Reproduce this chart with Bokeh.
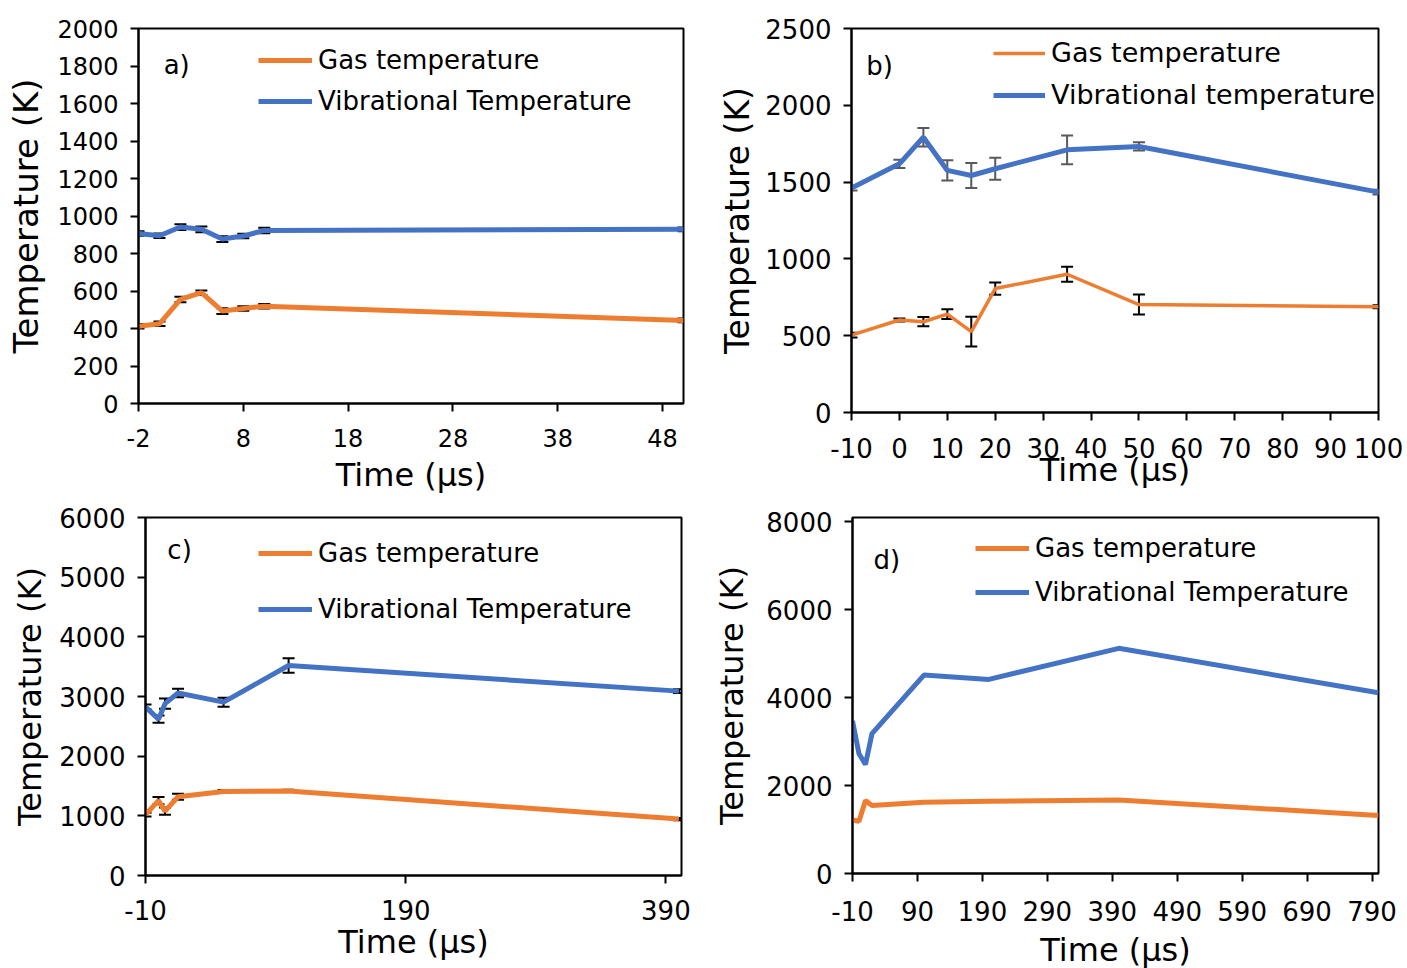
from bokeh.plotting import figure
from bokeh.models import (Range1d, FixedTicker, Whisker, TeeHead, ColumnDataSource,
                          Legend, LegendItem, Label)
from bokeh.layouts import column, row
from bokeh.embed import file_html
from bokeh.resources import INLINE

# ---------------- data ----------------
# panel a
a_time = [-2, 0, 2, 4, 6, 8, 10, 50]
a_gas = [412, 425, 555, 591, 493, 507, 519, 443]
a_gas_err = [12, 12, 15, 12, 15, 12, 12, 10]
a_vib = [907, 895, 941, 929, 877, 893, 923, 929]
a_vib_err = [12, 12, 15, 15, 15, 12, 15, 10]

# panel b
b_time = [-10, 0, 5, 10, 15, 20, 35, 50, 100]
b_gas = [504, 602, 591, 641, 526, 807, 900, 703, 688]
b_gas_err = [15, 10, 30, 32, 97, 40, 49, 65, 10]
b_vib = [1461, 1619, 1792, 1576, 1543, 1587, 1710, 1732, 1435]
b_vib_err = [15, 27, 60, 66, 81, 71, 94, 27, 15]

# panel c
c_time = [-10, 0, 5, 15, 50, 100, 400]
c_gas = [1020, 1255, 1080, 1320, 1407, 1418, 945]
c_gas_err = [30, 60, 60, 50, 25, 20, 20]
c_vib = [2825, 2620, 2880, 3058, 2905, 3520, 3090]
c_vib_err = [40, 60, 85, 70, 75, 120, 30]

# panel d
d_time = [-10, 0, 10, 20, 100, 200, 400, 800]
d_gas = [1217, 1186, 1658, 1544, 1620, 1643, 1673, 1316]
d_vib = [3468, 2722, 2479, 3179, 4510, 4411, 5118, 4106]

a_xticks = [-2, 8, 18, 28, 38, 48]
b_xticks = [-10, 0, 10, 20, 30, 40, 50, 60, 70, 80, 90, 100]
c_xticks = [-10, 190, 390]
d_xticks = [-10, 90, 190, 290, 390, 490, 590, 690, 790]
a_yticks = [0, 200, 400, 600, 800, 1000, 1200, 1400, 1600, 1800, 2000]
b_yticks = [0, 500, 1000, 1500, 2000, 2500]
c_yticks = [0, 1000, 2000, 3000, 4000, 5000, 6000]
d_yticks = [0, 2000, 4000, 6000, 8000]

ORANGE = "#ED7D31"
BLUE = "#4472C4"
FONT = "DejaVu Sans"


def make_fig(fw, fh, bl, br, bt, bb, xr, yr, xt, yt, tick_size, ylab_size,
             xtick_standoff, xlab_standoff, ylab_standoff, ytick_standoff):
    p = figure(frame_width=fw, frame_height=fh, min_border_left=bl, min_border_right=br,
               min_border_top=bt, min_border_bottom=bb,
               x_range=Range1d(*xr), y_range=Range1d(*yr),
               output_backend="svg", toolbar_location=None)
    p.xgrid.visible = False
    p.ygrid.visible = False
    p.outline_line_color = "black"
    p.outline_line_width = 2
    p.outline_line_alpha = 1
    p.background_fill_color = "white"
    p.border_fill_color = "white"
    p.xaxis.ticker = FixedTicker(ticks=xt)
    p.yaxis.ticker = FixedTicker(ticks=yt)
    # plain hyphen for negative tick labels, as in the reference
    p.xaxis.major_label_overrides = {t: str(t) for t in xt}
    p.yaxis.major_label_overrides = {t: str(t) for t in yt}
    for ax in (p.xaxis[0], p.yaxis[0]):
        ax.axis_line_color = "black"
        ax.axis_line_width = 2
        ax.major_tick_line_color = "black"
        ax.major_tick_line_width = 2
        ax.major_tick_in = 0
        ax.major_tick_out = 8
        ax.minor_tick_line_color = None
        ax.major_label_text_font = FONT
        ax.major_label_text_font_size = f"{tick_size}px"
        ax.major_label_text_color = "black"
        ax.axis_label_text_font = FONT
        ax.axis_label_text_font_style = "normal"
        ax.axis_label_text_color = "black"
    p.xaxis.axis_label = "Time (μs)"
    p.yaxis.axis_label = "Temperature (K)"
    p.xaxis.axis_label_text_font_size = "32px"
    p.yaxis.axis_label_text_font_size = f"{ylab_size}px"
    p.xaxis.major_label_standoff = xtick_standoff
    p.yaxis.major_label_standoff = ytick_standoff
    p.xaxis.axis_label_standoff = xlab_standoff
    p.yaxis.axis_label_standoff = ylab_standoff
    return p


def add_err(p, x, y, e, color):
    src = ColumnDataSource(dict(x=x, lo=[v - d for v, d in zip(y, e)], hi=[v + d for v, d in zip(y, e)]))
    w = Whisker(base="x", lower="lo", upper="hi", source=src, line_color=color, line_width=2,
                upper_head=TeeHead(size=12, line_color=color, line_width=2),
                lower_head=TeeHead(size=12, line_color=color, line_width=2))
    p.add_layout(w)


def add_legend(p, items, loc, size, spacing, gw=54):
    lg = Legend(items=items, location=loc, glyph_width=gw, glyph_height=20, label_standoff=6,
                padding=0, margin=0, spacing=spacing, border_line_alpha=0,
                background_fill_alpha=0, label_text_font=FONT,
                label_text_font_size=f"{size}px", label_text_color="black")
    p.add_layout(lg)


def add_tag(p, text, x, y):
    p.add_layout(Label(x=x, y=y, text=text, text_font=FONT, text_font_size="26px",
                       text_baseline="middle", text_align="left", text_color="black"))


# ---------------- panel a ----------------
pa = make_fig(545, 375, 138, 17, 28, 94, (-2, 50), (0, 2000), a_xticks, a_yticks, 24, 34, 17, 6, 8, 12)
ga = pa.line(a_time, a_gas, line_color=ORANGE, line_width=5)
va = pa.line(a_time, a_vib, line_color=BLUE, line_width=5)
add_err(pa, a_time, a_gas, a_gas_err, "black")
add_err(pa, a_time, a_vib, a_vib_err, "black")
add_legend(pa, [LegendItem(label="Gas temperature", renderers=[ga]),
                LegendItem(label="Vibrational Temperature", renderers=[va])], (120, 287), 26, 11)
add_tag(pa, "a)", 0.4, 1803)

# ---------------- panel b ----------------
pb = make_fig(527, 384, 151, 29, 28, 85, (-10, 100), (0, 2500), b_xticks, b_yticks, 26, 33, 17, -10, 5, 12)
gb = pb.line(b_time, b_gas, line_color=ORANGE, line_width=3.5)
vb = pb.line(b_time, b_vib, line_color=BLUE, line_width=5)
add_err(pb, b_time, b_gas, b_gas_err, "black")
add_err(pb, b_time, b_vib, b_vib_err, "#595959")
add_legend(pb, [LegendItem(label="Gas temperature", renderers=[gb]),
                LegendItem(label="Vibrational temperature", renderers=[vb])], (142, 302), 27, 11, gw=52)
add_tag(pb, "b)", -6.9, 2253)

# ---------------- panel c ----------------
pc = make_fig(536, 358, 145, 19, 20, 93, (-10, 402), (0, 6000), c_xticks, c_yticks, 26, 32, 16, 0, 7, 12)
gc = pc.line(c_time, c_gas, line_color=ORANGE, line_width=5)
vc = pc.line(c_time, c_vib, line_color=BLUE, line_width=5)
add_err(pc, c_time, c_gas, c_gas_err, "black")
add_err(pc, c_time, c_vib, c_vib_err, "black")
add_legend(pc, [LegendItem(label="Gas temperature", renderers=[gc]),
                LegendItem(label="Vibrational Temperature", renderers=[vc])], (113, 251), 26, 26)
add_tag(pc, "c)", 6.8, 5447)

# ---------------- panel d ----------------
pd_ = make_fig(526, 356, 152, 29, 20, 95, (-10, 800), (0, 8091), d_xticks, d_yticks, 26, 32, 19, 7, 12, 12)
gd = pd_.line(d_time, d_gas, line_color=ORANGE, line_width=5)
vd = pd_.line(d_time, d_vib, line_color=BLUE, line_width=5)
add_legend(pd_, [LegendItem(label="Gas temperature", renderers=[gd]),
                 LegendItem(label="Vibrational Temperature", renderers=[vd])], (123, 266), 26, 14)
add_tag(pd_, "d)", 22.3, 7114)

layout = column(row(pa, pb, spacing=0), row(pc, pd_, spacing=0), spacing=0)
open("out.html", "w").write(file_html(layout, INLINE))
